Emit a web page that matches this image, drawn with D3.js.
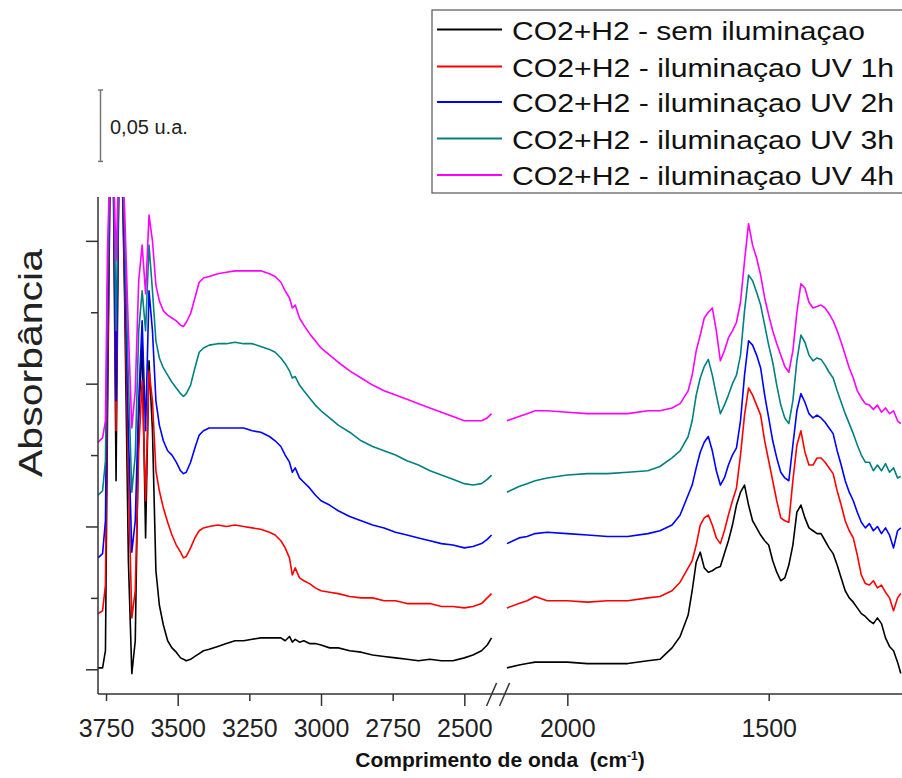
<!DOCTYPE html>
<html>
<head>
<meta charset="utf-8">
<script src="https://cdn.jsdelivr.net/npm/d3@7"></script>
<style>
  body { margin: 0; background: #fff; }
  svg { display: block; }
  text { font-family: "Liberation Sans", Arial, Helvetica, sans-serif; }
</style>
</head>
<body>
<svg id="chart" width="902" height="778"></svg>
<script>
// Wavenumbers (cm-1) of the high-frequency window, left of the axis break
const wavenumbersHigh = [3778, 3762, 3752, 3745, 3735, 3725, 3715, 3705, 3695, 3685, 3672, 3660, 3648, 3636, 3624, 3612, 3600, 3588, 3576, 3564, 3550, 3535, 3520, 3505, 3490, 3480, 3470, 3455, 3440, 3425, 3410, 3390, 3360, 3330, 3300, 3270, 3240, 3210, 3180, 3160, 3140, 3125, 3110, 3100, 3090, 3075, 3060, 3040, 3020, 3000, 2970, 2940, 2900, 2860, 2820, 2780, 2740, 2700, 2660, 2620, 2580, 2540, 2500, 2470, 2440, 2420, 2405];

// Wavenumbers (cm-1) of the low-frequency window, right of the axis break
const wavenumbersLow = [2150, 2120, 2100, 2080, 2050, 2000, 1950, 1900, 1850, 1800, 1770, 1740, 1720, 1700, 1690, 1680, 1670, 1660, 1650, 1640, 1630, 1620, 1610, 1600, 1590, 1580, 1570, 1560, 1550, 1540, 1530, 1520, 1510, 1500, 1490, 1480, 1470, 1460, 1450, 1440, 1430, 1420, 1410, 1400, 1390, 1380, 1370, 1360, 1350, 1340, 1330, 1320, 1310, 1300, 1290, 1280, 1270, 1260, 1250, 1240, 1230, 1220, 1210, 1200, 1190, 1180, 1172];

// Absorbance (stacked, arbitrary units) — no illumination
const absDarkHigh = [0.001, 0.001, 0.013, 0.174, 0.363, 0.356, 0.132, 0.356, 0.363, 0.258, 0.076, -0.003, 0.020, 0.174, 0.230, 0.092, 0.216, 0.167, 0.069, 0.045, 0.031, 0.020, 0.015, 0.012, 0.008, 0.007, 0.006, 0.007, 0.009, 0.011, 0.013, 0.014, 0.016, 0.018, 0.020, 0.020, 0.021, 0.022, 0.022, 0.022, 0.022, 0.020, 0.023, 0.019, 0.021, 0.019, 0.020, 0.018, 0.018, 0.017, 0.015, 0.015, 0.013, 0.012, 0.010, 0.009, 0.008, 0.007, 0.006, 0.007, 0.006, 0.006, 0.008, 0.010, 0.013, 0.017, 0.022];
const absDarkLow = [0.001, 0.003, 0.004, 0.005, 0.005, 0.005, 0.004, 0.004, 0.004, 0.006, 0.007, 0.015, 0.023, 0.038, 0.055, 0.075, 0.082, 0.071, 0.068, 0.069, 0.071, 0.072, 0.081, 0.090, 0.101, 0.115, 0.124, 0.129, 0.115, 0.104, 0.099, 0.094, 0.090, 0.087, 0.076, 0.068, 0.062, 0.064, 0.073, 0.087, 0.110, 0.115, 0.106, 0.099, 0.097, 0.095, 0.095, 0.090, 0.085, 0.081, 0.073, 0.064, 0.055, 0.050, 0.047, 0.043, 0.039, 0.037, 0.034, 0.032, 0.036, 0.032, 0.022, 0.016, 0.013, 0.005, -0.003];

// UV illumination 1 h
const absUV1High = [0.039, 0.041, 0.059, 0.202, 0.363, 0.363, 0.167, 0.356, 0.363, 0.272, 0.132, 0.036, 0.055, 0.153, 0.202, 0.118, 0.209, 0.188, 0.139, 0.125, 0.113, 0.103, 0.094, 0.087, 0.082, 0.078, 0.079, 0.085, 0.092, 0.097, 0.099, 0.100, 0.101, 0.100, 0.101, 0.100, 0.099, 0.098, 0.096, 0.094, 0.090, 0.085, 0.078, 0.066, 0.071, 0.064, 0.062, 0.060, 0.057, 0.055, 0.054, 0.053, 0.051, 0.050, 0.050, 0.048, 0.048, 0.046, 0.046, 0.046, 0.044, 0.044, 0.043, 0.044, 0.046, 0.050, 0.053];
const absUV1Low = [0.043, 0.046, 0.048, 0.051, 0.048, 0.048, 0.047, 0.048, 0.048, 0.050, 0.051, 0.055, 0.061, 0.071, 0.076, 0.087, 0.101, 0.106, 0.108, 0.101, 0.092, 0.088, 0.097, 0.108, 0.118, 0.127, 0.150, 0.178, 0.197, 0.192, 0.185, 0.178, 0.160, 0.146, 0.132, 0.118, 0.106, 0.104, 0.103, 0.132, 0.157, 0.167, 0.152, 0.143, 0.143, 0.148, 0.148, 0.145, 0.141, 0.137, 0.125, 0.115, 0.104, 0.097, 0.092, 0.080, 0.066, 0.060, 0.059, 0.062, 0.057, 0.059, 0.054, 0.050, 0.041, 0.050, 0.053];

// UV illumination 2 h
const absUV2High = [0.078, 0.081, 0.104, 0.237, 0.363, 0.363, 0.188, 0.356, 0.363, 0.286, 0.167, 0.082, 0.104, 0.188, 0.244, 0.167, 0.265, 0.237, 0.188, 0.171, 0.160, 0.153, 0.150, 0.145, 0.139, 0.137, 0.138, 0.145, 0.155, 0.164, 0.167, 0.169, 0.169, 0.169, 0.169, 0.169, 0.167, 0.166, 0.163, 0.160, 0.156, 0.150, 0.145, 0.138, 0.141, 0.134, 0.131, 0.127, 0.122, 0.118, 0.115, 0.111, 0.107, 0.104, 0.101, 0.099, 0.096, 0.094, 0.092, 0.090, 0.088, 0.087, 0.085, 0.086, 0.088, 0.091, 0.094];
const absUV2Low = [0.088, 0.092, 0.093, 0.095, 0.096, 0.095, 0.094, 0.093, 0.093, 0.095, 0.097, 0.101, 0.108, 0.122, 0.129, 0.141, 0.152, 0.159, 0.163, 0.153, 0.139, 0.129, 0.134, 0.143, 0.150, 0.155, 0.174, 0.206, 0.230, 0.227, 0.220, 0.211, 0.192, 0.176, 0.160, 0.148, 0.138, 0.134, 0.132, 0.157, 0.181, 0.193, 0.187, 0.179, 0.176, 0.178, 0.176, 0.173, 0.169, 0.165, 0.153, 0.143, 0.132, 0.124, 0.118, 0.110, 0.103, 0.099, 0.102, 0.097, 0.100, 0.095, 0.099, 0.094, 0.085, 0.097, 0.099];

// UV illumination 3 h
const absUV3High = [0.122, 0.125, 0.146, 0.265, 0.363, 0.363, 0.237, 0.356, 0.363, 0.307, 0.202, 0.124, 0.150, 0.237, 0.265, 0.237, 0.297, 0.265, 0.230, 0.218, 0.211, 0.206, 0.201, 0.197, 0.193, 0.191, 0.193, 0.199, 0.211, 0.222, 0.225, 0.227, 0.228, 0.228, 0.229, 0.228, 0.228, 0.226, 0.224, 0.222, 0.218, 0.214, 0.209, 0.204, 0.205, 0.199, 0.195, 0.190, 0.185, 0.181, 0.176, 0.171, 0.166, 0.160, 0.156, 0.153, 0.150, 0.146, 0.143, 0.139, 0.136, 0.133, 0.130, 0.129, 0.130, 0.133, 0.136];
const absUV3Low = [0.124, 0.128, 0.130, 0.132, 0.134, 0.136, 0.137, 0.137, 0.138, 0.139, 0.142, 0.148, 0.153, 0.163, 0.174, 0.192, 0.204, 0.212, 0.217, 0.206, 0.192, 0.179, 0.185, 0.192, 0.200, 0.206, 0.220, 0.251, 0.276, 0.272, 0.264, 0.255, 0.241, 0.227, 0.215, 0.199, 0.185, 0.176, 0.172, 0.188, 0.216, 0.234, 0.229, 0.220, 0.216, 0.218, 0.217, 0.213, 0.208, 0.204, 0.195, 0.187, 0.179, 0.172, 0.165, 0.157, 0.150, 0.145, 0.145, 0.139, 0.143, 0.139, 0.144, 0.138, 0.141, 0.134, 0.135];

// UV illumination 4 h
const absUV4High = [0.159, 0.162, 0.174, 0.293, 0.363, 0.363, 0.286, 0.356, 0.363, 0.321, 0.237, 0.169, 0.195, 0.272, 0.297, 0.263, 0.318, 0.300, 0.269, 0.258, 0.251, 0.248, 0.246, 0.244, 0.241, 0.240, 0.243, 0.249, 0.260, 0.271, 0.274, 0.275, 0.277, 0.278, 0.279, 0.279, 0.279, 0.279, 0.277, 0.275, 0.271, 0.265, 0.260, 0.253, 0.255, 0.246, 0.241, 0.235, 0.230, 0.225, 0.220, 0.215, 0.209, 0.204, 0.199, 0.195, 0.192, 0.189, 0.186, 0.183, 0.180, 0.177, 0.174, 0.174, 0.174, 0.176, 0.179];
const absUV4Low = [0.174, 0.177, 0.179, 0.181, 0.181, 0.180, 0.179, 0.179, 0.179, 0.181, 0.181, 0.183, 0.186, 0.195, 0.206, 0.223, 0.234, 0.246, 0.250, 0.253, 0.237, 0.216, 0.223, 0.232, 0.237, 0.243, 0.257, 0.286, 0.312, 0.297, 0.288, 0.276, 0.260, 0.248, 0.237, 0.228, 0.220, 0.212, 0.208, 0.223, 0.250, 0.270, 0.267, 0.257, 0.253, 0.254, 0.255, 0.253, 0.249, 0.244, 0.237, 0.229, 0.220, 0.211, 0.204, 0.195, 0.190, 0.186, 0.185, 0.182, 0.185, 0.180, 0.183, 0.179, 0.181, 0.174, 0.172];

const seriesNames = [
  "CO2+H2 - sem iluminaçao",
  "CO2+H2 - iluminaçao UV 1h",
  "CO2+H2 - iluminaçao UV 2h",
  "CO2+H2 - iluminaçao UV 3h",
  "CO2+H2 - iluminaçao UV 4h"
];
const seriesColors = ["#000000", "#ff0000", "#0000ff", "#008080", "#ff00ff"];
const seriesHigh = [absDarkHigh, absUV1High, absUV2High, absUV3High, absUV4High];
const seriesLow = [absDarkLow, absUV1Low, absUV2Low, absUV3Low, absUV4Low];

const ticksHigh = [3750, 3500, 3250, 3000, 2750, 2500];
const ticksLow = [2000, 1500];
const majorTicksX = [3500, 3000, 2500, 2000];
const ticksY = [0, 0.05, 0.10, 0.15, 0.20, 0.25, 0.30];
const scaleBarValue = 0.05;
const scaleBarLabel = "0,05 u.a.";
const xTitle = "Comprimento de onda";
const yTitle = "Absorbância";

// ---- layout ----
const svg = d3.select("#chart");
svg.append("rect").attr("width", 902).attr("height", 778).attr("fill", "#fff");

const plot = { left: 98, right: 902, top: 197, bottom: 694 };

const xHigh = d3.scaleLinear().domain([3778, 2400]).range([98, 493]);
const xLow = d3.scaleLinear().domain([2157, 1168]).range([504.1, 902.4]);
const y = d3.scaleLinear().domain([-0.0173, 0.3307]).range([plot.bottom, plot.top]);

svg.append("clipPath").attr("id", "plotClip")
  .append("rect")
  .attr("x", plot.left).attr("y", plot.top)
  .attr("width", plot.right - plot.left).attr("height", plot.bottom - plot.top);

const curves = svg.append("g").attr("clip-path", "url(#plotClip)");

function drawSegment(xs, wn, values, color) {
  const line = d3.line().x(d => xs(d[0])).y(d => y(d[1]));
  curves.append("path")
    .datum(d3.zip(wn, values))
    .attr("d", line)
    .attr("fill", "none")
    .attr("stroke", color)
    .attr("stroke-width", 1.6)
    .attr("stroke-linejoin", "round");
}

seriesNames.forEach((name, i) => {
  drawSegment(xHigh, wavenumbersHigh, seriesHigh[i], seriesColors[i]);
  drawSegment(xLow, wavenumbersLow, seriesLow[i], seriesColors[i]);
});

// ---- axes ----
const axisColor = "#333";
const tickFont = 25;

function styleXAxis(g) {
  g.select(".domain").remove();
  g.selectAll(".tick line")
    .attr("stroke", axisColor).attr("stroke-width", 1.5)
    .attr("y2", d => majorTicksX.includes(d) ? 12 : 7);
  g.selectAll(".tick text")
    .attr("y", 43).attr("dy", 0)
    .attr("fill", "#222")
    .style("font-size", tickFont + "px")
    .style("font-family", '"Liberation Sans", Arial, sans-serif');
}

svg.append("g").attr("transform", `translate(0,${plot.bottom})`)
  .call(d3.axisBottom(xHigh).tickValues(ticksHigh).tickFormat(d3.format("d")))
  .call(styleXAxis);
svg.append("g").attr("transform", `translate(0,${plot.bottom})`)
  .call(d3.axisBottom(xLow).tickValues(ticksLow).tickFormat(d3.format("d")))
  .call(styleXAxis);

// bottom axis line with break marks
svg.append("line")
  .attr("x1", plot.left).attr("x2", plot.right)
  .attr("y1", plot.bottom).attr("y2", plot.bottom)
  .attr("stroke", axisColor).attr("stroke-width", 1.5);
const breakMid = (xHigh.range()[1] + xLow.range()[0]) / 2;
[breakMid - 7, breakMid + 6].forEach(bx => {
  svg.append("line")
    .attr("x1", bx - 5).attr("y1", plot.bottom + 12)
    .attr("x2", bx + 5).attr("y2", plot.bottom - 11)
    .attr("stroke", axisColor).attr("stroke-width", 1.5);
});

// left axis
const yAxisG = svg.append("g").attr("transform", `translate(${plot.left},0)`)
  .call(d3.axisLeft(y).tickValues(ticksY).tickFormat(""));
yAxisG.select(".domain").remove();
yAxisG.selectAll(".tick line")
  .attr("stroke", axisColor).attr("stroke-width", 1.5)
  .attr("x2", d => (Math.round(d * 100) % 10 === 0) ? -12 : -7);
svg.append("line")
  .attr("x1", plot.left).attr("x2", plot.left)
  .attr("y1", plot.top).attr("y2", plot.bottom)
  .attr("stroke", axisColor).attr("stroke-width", 1.5);

// axis titles
const xt = svg.append("text")
  .attr("x", 500).attr("y", 767)
  .attr("text-anchor", "middle")
  .attr("fill", "#111")
  .style("font-size", "21px").style("font-weight", "bold");
xt.append("tspan").text(xTitle + "\u00a0\u00a0(cm");
xt.append("tspan").attr("baseline-shift", "super").style("font-size", "12px").text("-1");
xt.append("tspan").text(")");

svg.append("text")
  .attr("transform", "translate(42,363) rotate(-90)")
  .attr("text-anchor", "middle")
  .attr("fill", "#222")
  .attr("textLength", 228).attr("lengthAdjust", "spacingAndGlyphs")
  .style("font-size", "33px")
  .text(yTitle);

// scale bar
const barTop = 90;
const barLen = y(0) - y(scaleBarValue);
const bar = svg.append("g").attr("stroke", "#777").attr("stroke-width", 1.5);
bar.append("line").attr("x1", 100.5).attr("x2", 100.5).attr("y1", barTop).attr("y2", barTop + barLen);
bar.append("line").attr("x1", 98).attr("x2", 103).attr("y1", barTop).attr("y2", barTop);
bar.append("line").attr("x1", 98).attr("x2", 103).attr("y1", barTop + barLen).attr("y2", barTop + barLen);
svg.append("text").attr("x", 110).attr("y", 134)
  .attr("fill", "#222").style("font-size", "20px")
  .text(scaleBarLabel);

// legend
const legend = svg.append("g");
legend.append("rect")
  .attr("x", 432).attr("y", 10).attr("width", 480).attr("height", 183)
  .attr("fill", "#fff").attr("stroke", "#555").attr("stroke-width", 1.2);
const rowY = [29.5, 66.5, 102, 138.5, 175];
seriesNames.forEach((name, i) => {
  legend.append("line")
    .attr("x1", 437).attr("x2", 502)
    .attr("y1", rowY[i]).attr("y2", rowY[i])
    .attr("stroke", seriesColors[i]).attr("stroke-width", 2);
  legend.append("text")
    .attr("x", 512).attr("y", rowY[i] + 10)
    .attr("fill", "#111")
    .attr("textLength", i === 0 ? 353 : 382).attr("lengthAdjust", "spacingAndGlyphs")
    .style("font-size", "26px")
    .text(name);
});
</script>
</body>
</html>
